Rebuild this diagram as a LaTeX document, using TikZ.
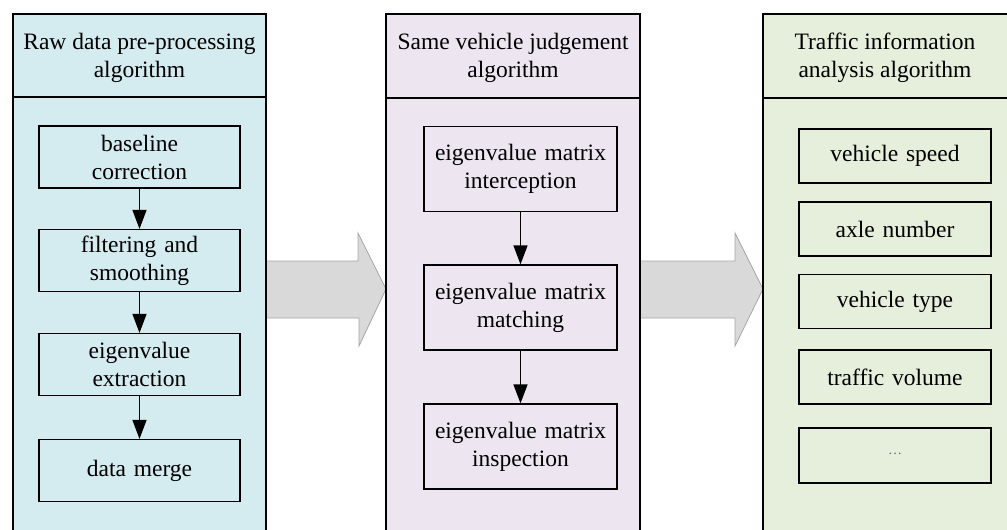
\documentclass[tikz,border=0pt]{standalone}
\usepackage{fontspec}
\setmainfont{Liberation Serif}
\usetikzlibrary{arrows.meta}
\definecolor{paneA}{HTML}{D4EBF0}
\definecolor{paneB}{HTML}{EDE6F1}
\definecolor{paneC}{HTML}{E5EFDB}
\definecolor{flowgray}{HTML}{D9D9D9}
\definecolor{flowedge}{HTML}{A6A6A6}
\tikzset{
  panelline/.style={line width=1.4pt, draw=black},
  headtext/.style={font=\fontsize{23.5}{28}\selectfont, align=center, inner sep=0pt},
  stepbox/.style={draw=black, line width=1.2pt, font=\fontsize{23.5}{28}\selectfont,
    align=center, inner sep=0pt, minimum width=#1, text width=#1},
  stepbox/.default=201pt,
  linkarrow/.style={line width=1.3pt, -{Triangle[length=19pt,width=14pt]}},
  flowarrow/.style={fill=flowgray, draw=flowedge, line width=0.8pt, line join=miter},
}
\begin{document}
\begin{tikzpicture}[x=1pt,y=-1pt]
\useasboundingbox (0,0) rectangle (1007,530);

% panel backgrounds
\fill[paneA] (13,14) rectangle (266,530);
\fill[paneB] (386,14) rectangle (640,530);
\fill[paneC] (763,14) rectangle (1007,530);

% panel outlines (open at the page edge)
\draw[panelline] (13,530) -- (13,14) -- (266,14) -- (266,530);
\draw[panelline] (13,97) -- (266,97);
\draw[panelline] (386,530) -- (386,14) -- (640,14) -- (640,530);
\draw[panelline] (386,98) -- (640,98);
\draw[panelline] (763,530) -- (763,14) -- (1007,14);
\draw[panelline] (763,98) -- (1007,98);

% panel headings
\node[headtext] (hA) at (139.5,58) {Raw data pre-processing\\algorithm};
\node[headtext] (hB) at (513,58) {Same vehicle judgement\\algorithm};
\node[headtext] (hC) at (885,58) {Traffic information\\analysis algorithm};

% raw data pre-processing steps
\node[stepbox=201pt, minimum height=62pt] (a1) at (139.5,157) {baseline\\correction};
\node[stepbox=201pt, minimum height=62pt] (a2) at (139.5,260.5) {filtering and\\smoothing};
\node[stepbox=201pt, minimum height=62pt] (a3) at (139.5,364.5) {eigenvalue\\extraction};
\node[stepbox=201pt, minimum height=62pt] (a4) at (139.5,470.5) {data merge};
\draw[linkarrow] (a1) -- (a2);
\draw[linkarrow] (a2) -- (a3);
\draw[linkarrow] (a3) -- (a4);

% same vehicle judgement steps
\node[stepbox=193pt, minimum height=85pt] (b1) at (520.5,169) {eigenvalue matrix\\interception};
\node[stepbox=193pt, minimum height=85pt] (b2) at (520.5,307.5) {eigenvalue matrix\\matching};
\node[stepbox=193pt, minimum height=85pt] (b3) at (520.5,446.5) {eigenvalue matrix\\inspection};
\draw[linkarrow] (b1) -- (b2);
\draw[linkarrow] (b2) -- (b3);

% traffic information outputs
\node[stepbox=192pt, minimum height=54pt] (c1) at (895,156) {vehicle speed};
\node[stepbox=192pt, minimum height=54pt] (c2) at (895,229) {axle number};
\node[stepbox=192pt, minimum height=54pt] (c3) at (895,301.5) {vehicle type};
\node[stepbox=192pt, minimum height=54pt] (c4) at (895,377) {traffic volume};
\node[stepbox=192pt, minimum height=55pt] (c5) at (895,455.5) {\fontsize{14}{14}\selectfont\raisebox{4pt}{\color{black!60}\ldots}};

% broad flow arrows between panels
\coordinate (fA) at (266,289);
\coordinate (fB) at (386,289);
\coordinate (fC) at (640,289);
\coordinate (fD) at (763,289);
\draw[flowarrow] ([yshift=28pt]fA) -- ++(92,0) -- ++(0,-28) -- (fB)
  -- ++(-27,57) -- ++(0,-28) -- ([yshift=-29pt]fA) -- cycle;
\draw[flowarrow] ([yshift=28pt]fC) -- ++(95,0) -- ++(0,-28) -- (fD)
  -- ++(-28,57) -- ++(0,-28) -- ([yshift=-29pt]fC) -- cycle;
\draw[panelline] (266,250) -- (266,330);
\draw[panelline] (386,230) -- (386,350);
\draw[panelline] (640,250) -- (640,330);
\draw[panelline] (763,230) -- (763,350);
\end{tikzpicture}
\end{document}
